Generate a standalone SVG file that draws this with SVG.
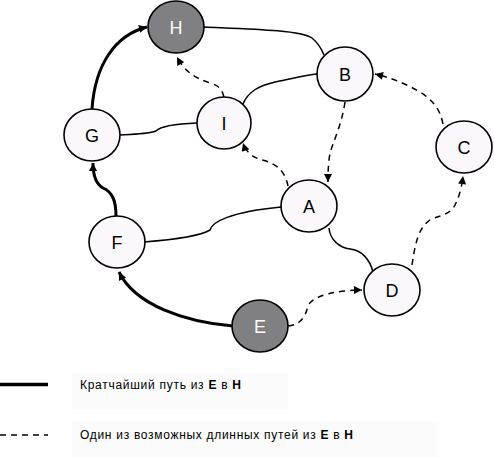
<svg xmlns="http://www.w3.org/2000/svg" width="494" height="457" viewBox="0 0 494 457">
<style>
.n ellipse{fill:#fbf8fc;stroke:#000;stroke-width:1.6}
.n.d ellipse{fill:#807f82}
.n text{font-family:"Liberation Sans",Arial,sans-serif;font-size:18px;text-anchor:middle;fill:#000}
.n.d text{fill:#fff}
.e{fill:none;stroke:#000;stroke-width:1.5}
.t{fill:none;stroke:#000;stroke-width:3}
.ds{fill:none;stroke:#000;stroke-width:1.5;stroke-dasharray:6 5}
.lg{font-family:"Liberation Sans",Arial,sans-serif;font-size:12px;fill:#000}
</style>
<defs>
<marker id="ar" viewBox="0 0 10 10" refX="10" refY="5" markerWidth="9" markerHeight="8" markerUnits="userSpaceOnUse" orient="auto">
<path d="M0,0 L10,5 L0,10 z" fill="#000"/>
</marker>
</defs>
<rect x="72" y="373" width="216" height="36" fill="#fafbfa"/>
<rect x="72" y="421" width="365" height="36" fill="#fafbfa"/>
<g id="connectors">
<path class="e" d="M204,27 C250,29 300,30 312,38 C318,43 322,50 324,55"/>
<path class="e" d="M243,104 C248,92 258,86 275,82 C295,78 305,75 317,74"/>
<path class="e" d="M120,135 C135,134 150,134 156,131 C160,127 170,124 197,123"/>
<path class="e" d="M144,242 C170,240 200,236 210,230 C212,222 230,212 281,207"/>
<path class="e" d="M329,228 C330,240 340,248 350,249 C362,250 370,260 373,272"/>
<path class="t" d="M233,326 C185,322 135,305 119,272" marker-end="url(#ar)"/>
<path class="t" d="M116,216 C116,200 112,192 103,188 C96,184 93,175 93,163" marker-end="url(#ar)"/>
<path class="t" d="M92,109 C95,65 115,35 147,27" marker-end="url(#ar)"/>
<path class="ds" d="M288,326 C300,325 305,318 308,306 C312,295 340,290 362,290" marker-end="url(#ar)"/>
<path class="ds" d="M412,265 C415,245 418,228 430,220 C440,215 450,215 455,205 C460,195 462,185 463,176" marker-end="url(#ar)"/>
<path class="ds" d="M443,124 C440,108 432,100 420,92 C405,83 388,77 375,74" marker-end="url(#ar)"/>
<path class="ds" d="M345,102 C343,115 340,125 337,133 C333,145 330,150 329,160 C328,170 328,175 328,182" marker-end="url(#ar)"/>
<path class="ds" d="M288,186 C285,170 275,163 262,160 C252,157 246,152 243,143" marker-end="url(#ar)"/>
<path class="ds" d="M224,97 C222,90 220,86 210,83 C195,78 185,72 177,57" marker-end="url(#ar)"/>
</g>
<g id="H" class="n d"><ellipse cx="176" cy="27" rx="28" ry="26"/><text x="176" y="33.5">H</text></g>
<g id="B" class="n"><ellipse cx="345" cy="74" rx="28" ry="27"/><text x="345" y="80.5">B</text></g>
<g id="G" class="n"><ellipse cx="92" cy="135" rx="28" ry="26"/><text x="92" y="141.5">G</text></g>
<g id="I" class="n"><ellipse cx="224" cy="123" rx="27" ry="26"/><text x="224" y="129.5">I</text></g>
<g id="C" class="n"><ellipse cx="464" cy="147" rx="28" ry="26"/><text x="464" y="153.5">C</text></g>
<g id="A" class="n"><ellipse cx="309" cy="206" rx="28" ry="26"/><text x="309" y="212.5">A</text></g>
<g id="F" class="n"><ellipse cx="117" cy="242" rx="28" ry="26"/><text x="117" y="248.5">F</text></g>
<g id="D" class="n"><ellipse cx="392" cy="290" rx="28" ry="26"/><text x="392" y="296.5">D</text></g>
<g id="E" class="n d"><ellipse cx="260" cy="326" rx="28" ry="26"/><text x="260" y="332.5">E</text></g>
<g id="legend">
<line x1="0" y1="384.5" x2="48" y2="384.5" stroke="#000" stroke-width="3.5"/>
<text class="lg" x="80" y="389" textLength="161" lengthAdjust="spacing">Кратчайший путь из <tspan font-weight="bold">E</tspan> в <tspan font-weight="bold">H</tspan></text>
<line x1="0" y1="435" x2="48" y2="435" stroke="#000" stroke-width="1.5" stroke-dasharray="6 5"/>
<text class="lg" x="80" y="439" textLength="273" lengthAdjust="spacing">Один из возможных длинных путей из <tspan font-weight="bold">E</tspan> в <tspan font-weight="bold">H</tspan></text>
</g>
</svg>
